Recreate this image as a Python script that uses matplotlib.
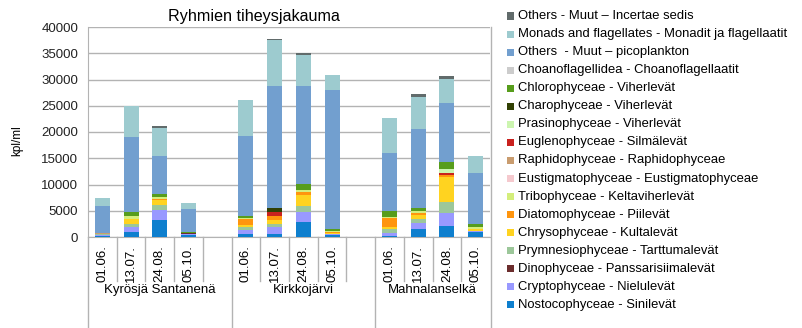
import matplotlib
matplotlib.use('Agg')
import matplotlib.pyplot as plt
from matplotlib.patches import Rectangle
from matplotlib.lines import Line2D
import numpy as np

plt.rcParams['font.family'] = ['Liberation Sans', 'DejaVu Sans']

groups = ['Kyrösjä Santanenä', 'Kirkkojärvi', 'Mahnalanselkä']
dates = ['01.06.', '13.07.', '24.08.', '05.10.']

# order: Kyrösjä x4, Kirkkojärvi x4, Mahnalanselkä x4  (bottom -> top of stack)
nostoc = [100, 900, 3240, 400, 570, 570, 2920, 440, 190, 1460, 2100, 950]
crypto = [200, 1060, 1900, 100, 760, 1400, 1910, 190, 640, 1150, 2400, 250]
dino = [0, 0, 0, 250, 0, 0, 0, 0, 0, 0, 130, 0]
prymnesio = [200, 520, 890, 0, 580, 510, 1070, 0, 630, 760, 2100, 0]
chryso = [150, 950, 990, 100, 320, 760, 2100, 190, 390, 760, 4760, 250]
diatom = [0, 0, 150, 0, 1140, 760, 570, 190, 1700, 380, 380, 150]
tribo = [0, 630, 380, 0, 310, 0, 380, 190, 320, 500, 0, 360]
eustig = [0] * 12
raphido = [170, 0, 0, 0, 0, 0, 0, 0, 0, 0, 0, 0]
euglena = [0, 0, 0, 0, 0, 830, 0, 0, 0, 0, 260, 0]
prasino = [0, 0, 0, 0, 0, 0, 0, 0, 0, 0, 760, 0]
charo = [0, 0, 0, 0, 0, 630, 0, 0, 0, 0, 0, 0]
chloro = [0, 700, 700, 150, 320, 0, 1150, 380, 1140, 580, 1400, 520]
choano = [0] * 12
picoplankton = [5080, 14340, 7240, 4390, 15240, 23310, 18670, 26420, 10990, 14980, 11300, 9710]
monads = [1500, 5860, 5280, 1080, 6860, 8700, 5900, 2860, 6670, 6160, 4510, 3240]
incertae = [0, 0, 380, 0, 0, 250, 330, 0, 0, 450, 570, 0]

series = [
    ('Nostocophyceae - Sinilevät', nostoc, '#0e7fce'),
    ('Cryptophyceae - Nielulevät', crypto, '#9999ff'),
    ('Dinophyceae - Panssarisiimalevät', dino, '#6b2d2d'),
    ('Prymnesiophyceae - Tarttumalevät', prymnesio, '#9cc79a'),
    ('Chrysophyceae - Kultalevät', chryso, '#ffd320'),
    ('Diatomophyceae - Piilevät', diatom, '#ff950e'),
    ('Tribophyceae - Keltaviherlevät', tribo, '#d4ee7c'),
    ('Eustigmatophyceae - Eustigmatophyceae', eustig, '#f5c9ce'),
    ('Raphidophyceae - Raphidophyceae', raphido, '#c99c6f'),
    ('Euglenophyceae - Silmälevät', euglena, '#c9211e'),
    ('Prasinophyceae - Viherlevät', prasino, '#ccf5b0'),
    ('Charophyceae - Viherlevät', charo, '#314004'),
    ('Chlorophyceae - Viherlevät', chloro, '#579d1c'),
    ('Choanoflagellidea - Choanoflagellaatit', choano, '#cccccc'),
    ('Others  - Muut \u2013 picoplankton', picoplankton, '#729fcf'),
    ('Monads and flagellates - Monadit ja flagellaatit', monads, '#9dcbcf'),
    ('Others - Muut \u2013 Incertae sedis', incertae, '#616b6b'),
]

W, H = 803, 328
fig = plt.figure(figsize=(W / 100, H / 100), dpi=100)
ax = fig.add_axes([88 / W, 1 - 237 / H, (490 - 88) / W, 210 / H])

# 14 slots: 4 bars + gap per group
pos = np.array([0, 1, 2, 3, 5, 6, 7, 8, 10, 11, 12, 13])
bottom = np.zeros(12)
for name, vals, col in series:
    v = np.array(vals, dtype=float)
    ax.bar(pos, v, 0.52, bottom=bottom, color=col, linewidth=0, zorder=3)
    bottom += v

ax.set_xlim(-0.5, 13.5)
ax.set_ylim(0, 40000)
ax.set_yticks(np.arange(0, 40001, 5000))
ax.tick_params(axis='y', length=0, pad=7, labelsize=9.5, labelcolor='#222222')
ax.grid(axis='y', color='#b3b3b3', linewidth=1, zorder=0)
for s in ['top', 'right']:
    ax.spines[s].set_visible(False)
for s in ['left', 'bottom']:
    ax.spines[s].set_color('#b3b3b3')
ax.set_ylabel('kpl/ml', fontsize=8.5)
ax.yaxis.set_label_coords(-0.16, 0.46)

ax.set_xticks(pos)
ax.set_xticklabels(dates * 3, rotation=90, fontsize=9.5)
ax.tick_params(axis='x', length=0, pad=6)

# category / group separators below the axis
tr = ax.get_xaxis_transform()
for b in np.arange(-0.5, 14, 1.0):
    if b in (-0.5, 4.5, 9.5):
        y0 = -91 / 210
    elif b == 13.5:
        continue
    else:
        y0 = -44 / 210
    ax.plot([b, b], [0, y0], transform=tr, color='#b3b3b3', linewidth=1, clip_on=False)

for g, cx in zip(groups, [2, 7, 11.5]):
    ax.text(cx, -53 / 210, g, transform=tr, ha='center', va='center', fontsize=9.5)

fig.text(254 / W, 1 - 17 / H, 'Ryhmien tiheysjakauma', ha='center', va='center', fontsize=11.6)

# line at right edge of plot area
fig.add_artist(Line2D([491 / W, 491 / W], [0, 1 - 27 / H], transform=fig.transFigure,
                      color='#b3b3b3', linewidth=1))

# legend (top entry = last series)
for i, (name, vals, col) in enumerate(reversed(series)):
    yc = 16 + i * 18.06
    fig.add_artist(Rectangle((507 / W, 1 - (yc + 3.5) / H), 7 / W, 7 / H,
                             transform=fig.transFigure, color=col, linewidth=0))
    fig.text(518 / W, 1 - yc / H, name, ha='left', va='center', fontsize=9.4)

fig.savefig('out.png', dpi=100)
